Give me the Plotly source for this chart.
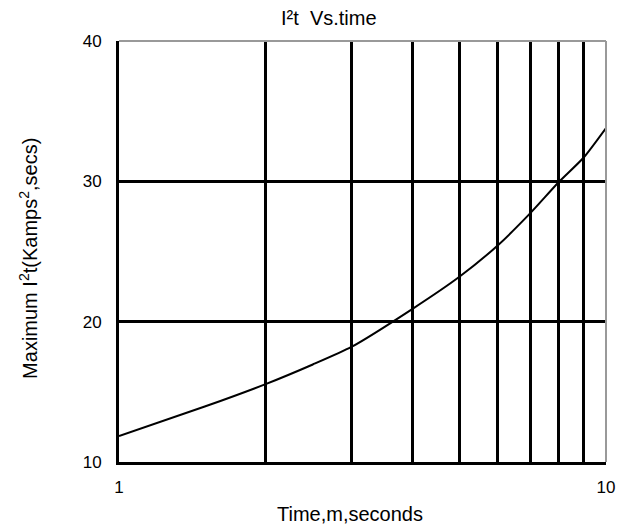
import plotly.graph_objects as go

time_ms = [1, 1.5, 2, 2.5, 3, 4, 5, 6, 7, 8, 9, 10]
i2t_max = [11.85, 13.95, 15.55, 16.95, 18.2, 20.9, 23.2, 25.45, 27.75, 29.95, 31.7, 33.8]

x_tickvals = [1, 10]
x_ticktext = ["1", "10"]
x_gridvals = [2, 3, 4, 5, 6, 7, 8, 9]
y_tickvals = [10, 20, 30, 40]

title_text = "I²t  Vs.time"
x_title = "Time,m,seconds"
y_title = "Maximum I<sup>2</sup>t(Kamps<sup>2</sup>,secs)"

FONT = "Liberation Sans, Arial, sans-serif"

fig = go.Figure()
fig.add_trace(go.Scatter(
    x=time_ms, y=i2t_max, mode="lines",
    line=dict(color="black", width=2, shape="spline", smoothing=0.6),
    showlegend=False, hoverinfo="skip",
))

fig.update_layout(
    width=623, height=523,
    margin=dict(l=111, r=25, t=33, b=69),
    paper_bgcolor="white", plot_bgcolor="white",
    font=dict(family=FONT, size=17, color="black"),
)

fig.update_xaxes(
    type="log", range=[0, 1],
    tickvals=x_tickvals, ticktext=x_ticktext,
    showgrid=False,
    minor=dict(tickvals=x_gridvals, showgrid=True, gridcolor="black", gridwidth=3, ticks=""),
    showline=True, linecolor="black", linewidth=3,
    ticks="", ticklabelstandoff=8,
    tickfont=dict(size=17),
    zeroline=False,
)
fig.update_yaxes(
    range=[10, 40], tickvals=y_tickvals,
    showgrid=True, gridcolor="black", gridwidth=3,
    showline=True, linecolor="black", linewidth=3,
    ticks="", ticklabelstandoff=11,
    tickfont=dict(size=17),
    zeroline=False,
)

# grey top and right frame
fig.add_shape(type="line", xref="x domain", yref="y domain", x0=0, x1=1, y0=1, y1=1,
              line=dict(color="#999999", width=2))
fig.add_shape(type="line", xref="x domain", yref="y domain", x0=1, x1=1, y0=0, y1=1,
              line=dict(color="#999999", width=2))

# titles
fig.add_annotation(text=title_text, xref="x domain", yref="y domain",
                   x=0.431, y=1.0546, xanchor="center", yanchor="middle",
                   showarrow=False, font=dict(size=20))
fig.add_annotation(text=x_title, xref="x domain", yref="y domain",
                   x=0.474, y=-0.1235, xanchor="center", yanchor="middle",
                   showarrow=False, font=dict(size=20))
fig.add_annotation(text=y_title, xref="x domain", yref="y domain",
                   x=-0.185, y=0.4846, xanchor="center", yanchor="middle",
                   textangle=-90, showarrow=False, font=dict(size=20))

fig.write_html("out.html")
